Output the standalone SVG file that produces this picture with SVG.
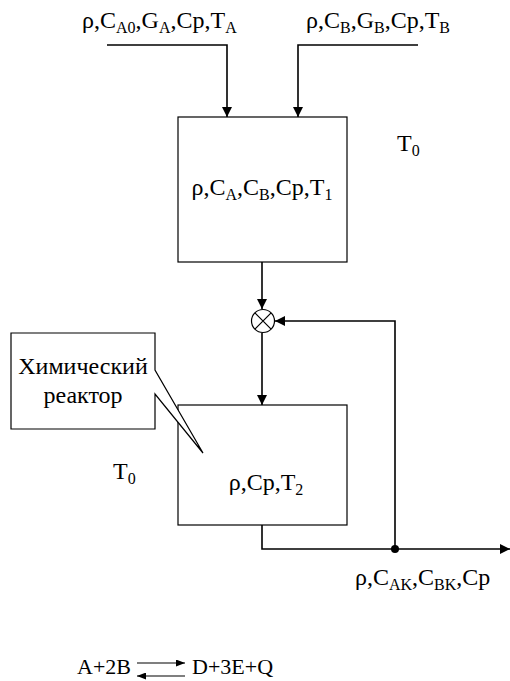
<svg xmlns="http://www.w3.org/2000/svg" width="510" height="681" viewBox="0 0 510 681">
<style>
text{font-family:'Liberation Serif','Times New Roman','DejaVu Serif',serif;font-size:24px;fill:#000}
.s{font-size:16px}
.eq{font-size:22px}
.box{fill:#fff;stroke:#000;stroke-width:1.2}
.ln{fill:none;stroke:#000;stroke-width:1.6}
.thin{fill:none;stroke:#000;stroke-width:1.2}
</style>
<defs>
<marker id="ah" markerUnits="userSpaceOnUse" markerWidth="10" markerHeight="10" viewBox="0 0 10 10" refX="10" refY="5" orient="auto">
<path d="M0,0 L10,5 L0,10 z" fill="#000"/>
</marker>
<marker id="ahs" markerUnits="userSpaceOnUse" markerWidth="9" markerHeight="7" viewBox="0 0 9 7" refX="9" refY="3.5" orient="auto">
<path d="M0,0 L9,3.5 L0,7 z" fill="#000"/>
</marker>
</defs>
<rect width="510" height="681" fill="#fff"/>

<g id="connectors">
<path class="ln" d="M107,45 H227 V117" marker-end="url(#ah)"/>
<path class="ln" d="M418,45 H298 V117" marker-end="url(#ah)"/>
<path class="ln" d="M262,262 V309" marker-end="url(#ah)"/>
<path class="ln" d="M262,333 V405" marker-end="url(#ah)"/>
<path class="ln" d="M262,525 V549 H510" marker-end="url(#ah)"/>
<path class="ln" d="M395,549 V321 H275" marker-end="url(#ah)"/>
<circle cx="395" cy="549" r="4" fill="#000"/>
</g>

<g font-family="'Liberation Serif', 'Times New Roman', serif">
<g id="input-a">
<text x="82" y="28">ρ,C<tspan class="s" dy="5">A0</tspan><tspan dy="-5">,G</tspan><tspan class="s" dy="5">A</tspan><tspan dy="-5">,Cp,T</tspan><tspan class="s" dy="5">A</tspan></text>
</g>
<g id="input-b">
<text x="306" y="28">ρ,C<tspan class="s" dy="5">B</tspan><tspan dy="-5">,G</tspan><tspan class="s" dy="5">B</tspan><tspan dy="-5">,Cp,T</tspan><tspan class="s" dy="5">B</tspan></text>
</g>

<g id="mixer1">
<rect class="box" x="178" y="117" width="169" height="145"/>
<text x="262" y="195" text-anchor="middle">ρ,C<tspan class="s" dy="5">A</tspan><tspan dy="-5">,C</tspan><tspan class="s" dy="5">B</tspan><tspan dy="-5">,Cp,T</tspan><tspan class="s" dy="5">1</tspan></text>
</g>

<g id="t0-right">
<text x="397" y="151">T<tspan class="s" dy="5">0</tspan></text>
</g>

<g id="summer">
<circle cx="263" cy="321" r="11.5" fill="#fff" stroke="#000" stroke-width="1.2"/>
<path class="thin" d="M254.9,312.9 L271.1,329.1 M271.1,312.9 L254.9,329.1"/>
</g>

<g id="reactor">
<rect class="box" x="178" y="405" width="169" height="120"/>
<text x="266" y="490" text-anchor="middle">ρ,Cp,T<tspan class="s" dy="5">2</tspan></text>
</g>

<g id="callout">
<path class="box" d="M11,333 H155 V370 L203,453 L155,394 V429 H11 Z"/>
<text x="83" y="374" text-anchor="middle">Химический</text>
<text x="83" y="403" text-anchor="middle">реактор</text>
</g>

<g id="t0-left">
<text x="113" y="479">T<tspan class="s" dy="5">0</tspan></text>
</g>

<g id="output">
<text x="355" y="585">ρ,C<tspan class="s" dy="5">AK</tspan><tspan dy="-5">,C</tspan><tspan class="s" dy="5">BK</tspan><tspan dy="-5">,Cp</tspan></text>
</g>

<g id="equation">
<text class="eq" x="77" y="674">A+2B</text>
<line class="thin" x1="137" y1="663" x2="185" y2="663" marker-end="url(#ahs)"/>
<line class="thin" x1="185" y1="676" x2="137" y2="676" marker-end="url(#ahs)"/>
<text class="eq" x="192" y="674">D+3E+Q</text>
</g>
</g>
</svg>
